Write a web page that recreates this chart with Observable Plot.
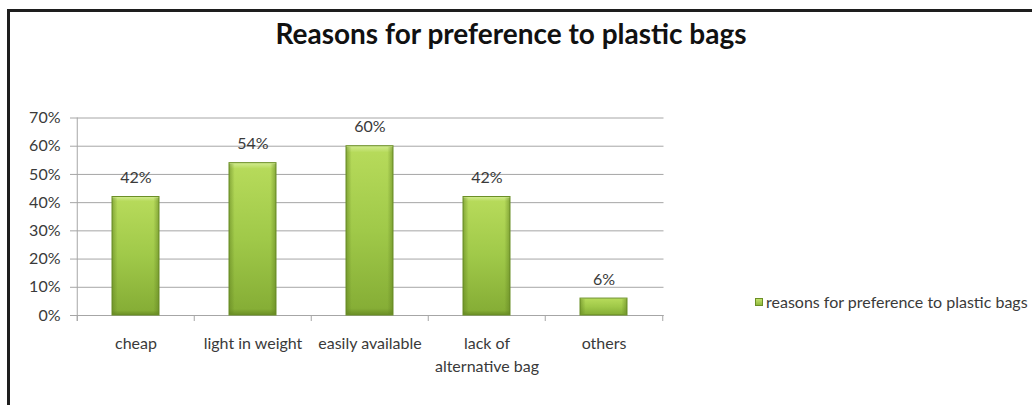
<!DOCTYPE html>
<html>
<head>
<meta charset="utf-8">
<script src="https://cdn.jsdelivr.net/npm/d3@7"></script>
<script src="https://cdn.jsdelivr.net/npm/@observablehq/plot@0.6"></script>
<style>
  body { margin: 0; background: #fff; }
  #wrap { position: relative; width: 1032px; height: 405px; overflow: hidden; font-family: Lato, sans-serif; color: #3a3a3a; }
  #border { position: absolute; left: 7px; top: 9px; width: 1040px; height: 410px; border-left: 3px solid #1e1e1e; border-top: 3px solid #1e1e1e; }
  #title { position: absolute; left: 10px; width: 1002px; top: 16px; text-align: center; font-weight: bold; font-size: 28px; color: #111; white-space: nowrap; }
  #chart { position: absolute; left: 0; top: 0; }
  #legend { position: absolute; left: 755px; top: 292px; font-size: 16px; white-space: nowrap; display: flex; align-items: center; }
  #legend .swatch { width: 6px; height: 6px; margin-right: 3px; border: 1px solid #6b8f26; background: linear-gradient(#c2e26c, #8fb83c); }
</style>
</head>
<body>
<div id="wrap">
  <div id="border"></div>
  <div id="title"></div>
  <div id="chart"></div>
  <div id="legend"><span class="swatch"></span><span class="label"></span></div>
</div>
<script>
const chartTitle = "Reasons for preference to plastic bags";
const seriesName = "reasons for preference to plastic bags";
const categories = ["cheap", "light in weight", "easily available", "lack of alternative bag", "others"];
const tickLabels = ["cheap", "light in weight", "easily available", "lack of\nalternative bag", "others"];
const shares = [0.42, 0.54, 0.60, 0.42, 0.06];
const yTicks = [0, 0.1, 0.2, 0.3, 0.4, 0.5, 0.6, 0.7];

const data = categories.map((category, i) => ({category, label: tickLabels[i], share: shares[i]}));
const pct = d3.format(".0%");

const W = 700, H = 405, mL = 76, mR = 36.5, mT = 117.5, mB = 90;
const step = (W - mL - mR) / categories.length;
const grey = "#a6a6a6";
const ink = "#3a3a3a";

const plot = Plot.plot({
  width: W,
  height: H,
  marginLeft: mL,
  marginRight: mR,
  marginTop: mT,
  marginBottom: mB,
  style: {fontFamily: "Lato, sans-serif", fontSize: "16px", color: ink, background: "transparent"},
  x: {domain: categories, paddingInner: 0.6, paddingOuter: 0.3, axis: null},
  y: {domain: [0, 0.7], axis: null},
  marks: [
    Plot.gridY(yTicks, {stroke: grey, strokeOpacity: 1}),
    Plot.axisY(yTicks, {tickSize: 6, tickPadding: 10, tickFormat: pct, stroke: grey, fill: ink, label: null, fontSize: 16}),
    Plot.ruleY([0], {stroke: grey}),
    // vertical axis line and category separators
    Plot.ruleX([categories[0]], {x: d => d, dx: -step / 2, stroke: grey, insetBottom: -6}),
    Plot.ruleX(categories, {x: d => d, dx: -step / 2, stroke: grey, insetTop: H - mT - mB, insetBottom: -6}),
    Plot.ruleX([categories[categories.length - 1]], {x: d => d, dx: step / 2, stroke: grey, insetTop: H - mT - mB, insetBottom: -6}),
    // bars: body gradient plus darker sides
    Plot.barY(data, {x: "category", y: "share", fill: "url(#barBody)", stroke: "#6b8f26", strokeWidth: 1}),
    Plot.barY(data, {x: "category", y: "share", fill: "url(#barSides)", insetTop: 1, insetBottom: 1}),
    Plot.text(data, {x: "category", y: "share", text: d => pct(d.share), dy: -19, fill: ink, fontSize: 16}),
    Plot.text(data, {x: "category", frameAnchor: "bottom", text: "label", lineAnchor: "top", dy: 17, lineHeight: 1.45, fill: ink, fontSize: 16})
  ]
});

d3.select(plot).insert("defs", ":first-child").html(`
  <linearGradient id="barBody" x1="0" y1="0" x2="0" y2="1">
    <stop offset="0" stop-color="#d3ec92"/>
    <stop offset="0.04" stop-color="#b6da5a"/>
    <stop offset="0.5" stop-color="#a0c949"/>
    <stop offset="0.96" stop-color="#86ae36"/>
    <stop offset="1" stop-color="#6a8e25"/>
  </linearGradient>
  <linearGradient id="barSides" x1="0" y1="0" x2="1" y2="0">
    <stop offset="0" stop-color="#5f8020" stop-opacity="0.55"/>
    <stop offset="0.12" stop-color="#5f8020" stop-opacity="0"/>
    <stop offset="0.88" stop-color="#5f8020" stop-opacity="0"/>
    <stop offset="1" stop-color="#5f8020" stop-opacity="0.55"/>
  </linearGradient>`);

document.getElementById("chart").append(plot);
document.getElementById("title").textContent = chartTitle;
document.querySelector("#legend .label").textContent = seriesName;
</script>
</body>
</html>
